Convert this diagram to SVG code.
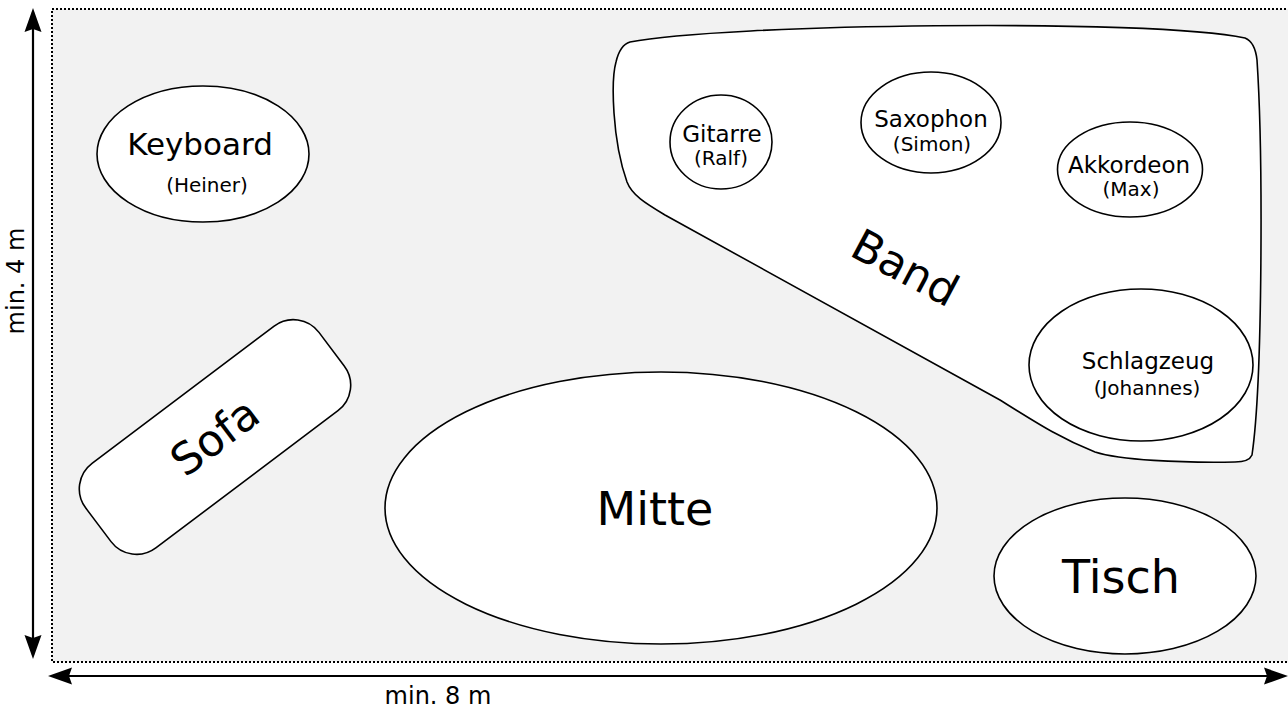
<svg xmlns="http://www.w3.org/2000/svg" width="1288" height="709" viewBox="0 0 1288 709">
<style>
  text { font-family: "DejaVu Sans", "Liberation Sans", sans-serif; fill: #000; text-anchor: middle; }
  .shape { fill: #fff; stroke: #000; stroke-width: 1.6; }
  .main { font-size: 23px; }
  .sub { font-size: 20px; }
  .big { font-size: 46px; }
  .dim { stroke: #000; stroke-width: 2.2; fill: none; marker-start: url(#arr); marker-end: url(#arr); }
  .dimtext { font-size: 24px; }
</style>
<defs>
  <marker id="arr" viewBox="0 0 24 18" markerWidth="24" markerHeight="18" refX="20" refY="9" orient="auto-start-reverse" markerUnits="userSpaceOnUse">
    <path d="M24,9 L0,0.5 L3,9 L0,17.5 Z" fill="#000"/>
  </marker>
</defs>

<rect id="floor" x="52" y="9" width="1245" height="653" fill="#f2f2f2" stroke="#000" stroke-width="2" stroke-dasharray="2,2"/>

<g id="connectors">
  <line class="dim" x1="33" y1="12" x2="33" y2="655"/>
  <line class="dim" x1="52" y1="676" x2="1284" y2="676"/>
</g>
<text class="dimtext" transform="translate(24,281) rotate(-90)" x="0" y="0">min. 4 m</text>
<text class="dimtext" x="438" y="704">min. 8 m</text>

<g id="band">
  <path class="shape" stroke-width="2" d="M630,42 C720,24 1150,18 1245,38 Q1255,42 1257,60 C1263,150 1263,380 1252,455 Q1249,462 1235,462 C1180,463 1120,460 1095,452 C1060,438 1040,425 1000,400 L665,215 C645,203 632,195 627,182 C612,140 611,80 616,62 Q620,45 630,42 Z"/>
  <text transform="translate(905,268) rotate(28)" x="0" y="15" style="font-size:44px">Band</text>
</g>

<g id="gitarre">
  <ellipse class="shape" cx="721" cy="142" rx="51" ry="47"/>
  <text class="main" x="722" y="142">Gitarre</text>
  <text class="sub" x="721" y="165">(Ralf)</text>
</g>

<g id="saxophon">
  <ellipse class="shape" cx="931" cy="122.5" rx="70" ry="50.5"/>
  <text class="main" x="931" y="127">Saxophon</text>
  <text class="sub" x="932" y="151">(Simon)</text>
</g>

<g id="akkordeon">
  <ellipse class="shape" cx="1130" cy="169.5" rx="72.5" ry="47.5"/>
  <text class="main" x="1129" y="173">Akkordeon</text>
  <text class="sub" x="1131" y="196">(Max)</text>
</g>

<g id="schlagzeug">
  <ellipse class="shape" cx="1141" cy="365" rx="112" ry="76"/>
  <text class="main" x="1148" y="369">Schlagzeug</text>
  <text class="sub" x="1147" y="395">(Johannes)</text>
</g>

<g id="keyboard">
  <ellipse class="shape" cx="203" cy="154" rx="106" ry="68"/>
  <text x="200" y="155" style="font-size:31px">Keyboard</text>
  <text class="sub" x="207" y="192">(Heiner)</text>
</g>

<g id="sofa">
  <rect class="shape" x="-146" y="-53" width="292" height="106" rx="32" ry="32" transform="translate(215,437) rotate(-37)"/>
  <text transform="translate(215,437) rotate(-37)" x="0" y="15" style="font-size:44px">Sofa</text>
</g>

<g id="mitte">
  <ellipse class="shape" cx="661" cy="508" rx="276" ry="136"/>
  <text class="big" x="655" y="525">Mitte</text>
</g>

<g id="tisch">
  <ellipse class="shape" cx="1125" cy="576" rx="131" ry="78"/>
  <text class="big" x="1121" y="593">Tisch</text>
</g>
</svg>
